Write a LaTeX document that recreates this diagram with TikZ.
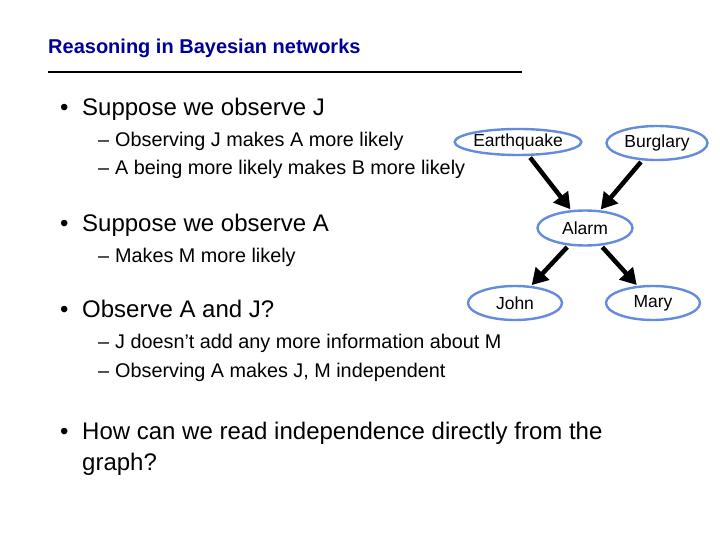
\documentclass[tikz,border=0pt]{standalone}
\usepackage{fontspec}
\setmainfont{Liberation Sans}
\usetikzlibrary{shapes.geometric,arrows.meta}
\definecolor{ttl}{RGB}{0,0,153}
\definecolor{ell}{RGB}{100,140,220}
\begin{document}
\begin{tikzpicture}[x=1pt,y=-1pt,
  bul/.style={anchor=base west,inner sep=0,font=\fontsize{24}{28}\selectfont},
  sub/.style={anchor=base west,inner sep=0,font=\fontsize{19.8}{24}\selectfont},
  bn/.style={ellipse,draw=ell,line width=2.4pt,fill=white,inner sep=0,font=\fontsize{17.5}{20}\selectfont},
  ar/.style={line width=4.5pt,-{Triangle[length=16pt,width=18pt]},shorten <=2pt,shorten >=1pt}]
\useasboundingbox[fill=white] (0,0) rectangle (720,540);
\node[anchor=base west,inner sep=0,text=ttl,font=\fontsize{20}{24}\selectfont\bfseries] (t) at (48,54) {Reasoning in Bayesian networks};
\draw[line width=2.5pt] (48,72) -- (522,72);
\foreach \y/\n/\t in {116/b1/Suppose we observe J,231/b2/Suppose we observe A,317/b3/Observe A and J?,439/b4/How can we read independence directly from the}{
  \node[bul] at (60,\y) {•};
  \node[bul] (\n) at (82,\y) {\t};}
\node[bul] (b4b) at (82,470) {graph?};
\foreach \y/\n/\t in {147/s1/{Observing J makes A more likely},175/s2/{A being more likely makes B more likely},262/s3/{Makes M more likely},348/s4/{J doesn’t add any more information about M},377/s5/{Observing A makes J, M independent}}{
  \node[sub] at (98,\y) {–};
  \node[sub] (\n) at (115,\y) {\t};}
\node[bn,minimum width=103pt,minimum height=26pt] (E) at (518,142) {Earthquake};
\node[bn,minimum width=101pt,minimum height=34pt] (B) at (657,143) {Burglary};
\node[bn,minimum width=95pt,minimum height=35pt] (A) at (585,228) {Alarm};
\node[bn,minimum width=94pt,minimum height=34pt] (J) at (515,303) {John};
\node[bn,minimum width=94pt,minimum height=34pt] (M) at (653,303) {Mary};
\draw[ar] (E) -- (A);
\draw[ar] (B) -- (A);
\draw[ar] (A) -- (J);
\draw[ar] (A) -- (M);
\end{tikzpicture}
\end{document}
